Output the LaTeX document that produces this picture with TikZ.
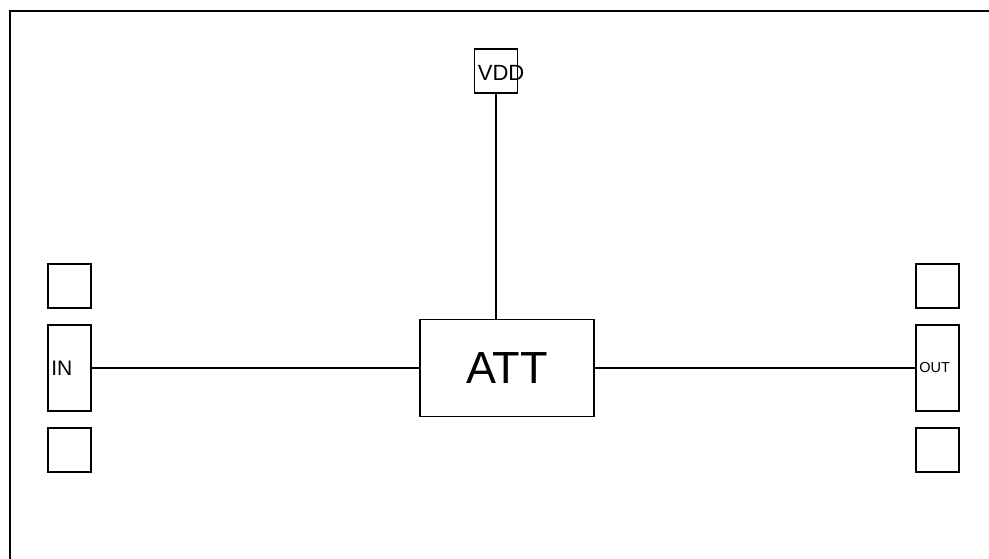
\documentclass[tikz,border=0pt]{standalone}
\usepackage{fontspec}
\setmainfont{Liberation Sans}
\usetikzlibrary{positioning}

\begin{document}
\begin{tikzpicture}[x=1pt,y=-1pt,line width=1.8pt,node distance=17pt,
        pad/.style={draw,minimum width=43pt,minimum height=44pt,inner sep=0pt,outer sep=0pt},
        port/.style={pad,minimum height=86pt},
        tag/.style={anchor=west,inner sep=2.5pt,font=\fontsize{#1}{#1}\selectfont}]
        \clip (0,0) rectangle (989,558);
        \draw (10,11) rectangle (1000,570);
        \node [draw,outer sep=0pt,minimum width=174pt,minimum height=97pt,font=\fontsize{45}{45}\selectfont] (att) at (507,368) {ATT};
        \node [pad,label={[tag=22,yshift=-2pt]west:VDD}] (vdd) at (496,71) {};
        % input side
        \node [port,label={[tag=21]west:IN}] (in) at (69.5,368) {};
        \node [pad,above=of in] (in top) {};
        \node [pad,below=of in] (in bot) {};
        % output side
        \node [port,label={[tag=14.5]west:OUT}] (out) at (937.5,368) {};
        \node [pad,above=of out] (out top) {};
        \node [pad,below=of out] (out bot) {};
        \draw (vdd.south) -- (vdd.south |- att.north);
        \draw (in) -- (att);
        \draw (att) -- (out);
    \end{tikzpicture}
\end{document}
